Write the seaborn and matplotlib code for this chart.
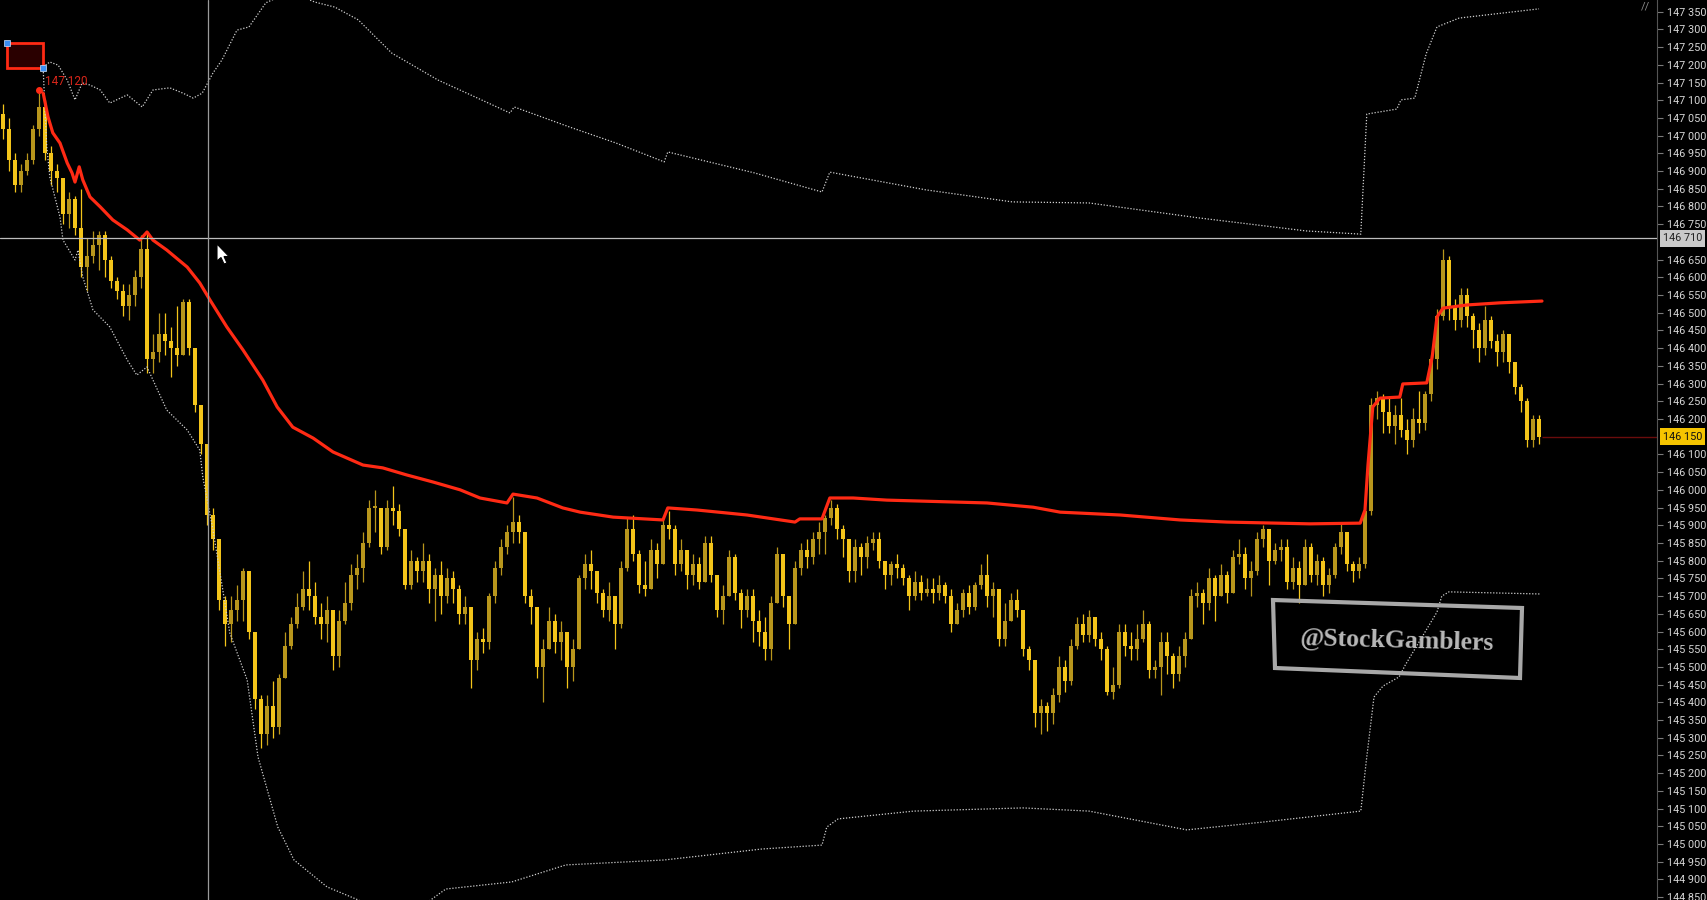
from matplotlib.patches import Polygon, Rectangle
import matplotlib.pyplot as plt
import matplotlib.transforms as mtransforms
import numpy as np
import pandas as pd
import seaborn as sns


# candles, one per bar (open of bar n = close of bar n-1)
first_open = 147.06
closes = [
    147.02, 146.93, 146.86, 146.90, 146.93, 147.02, 147.08, 146.95, 146.90, 146.88,
    146.78, 146.82, 146.74, 146.63, 146.66, 146.69, 146.72, 146.65, 146.59, 146.56,
    146.52, 146.55, 146.60, 146.68, 146.37, 146.39, 146.44, 146.42, 146.40, 146.38,
    146.53, 146.40, 146.24, 146.13, 145.93, 145.86, 145.69, 145.62, 145.66, 145.69,
    145.77, 145.60, 145.41, 145.31, 145.39, 145.33, 145.47, 145.56, 145.62, 145.67,
    145.72, 145.70, 145.64, 145.62, 145.66, 145.53, 145.63, 145.68, 145.76, 145.78,
    145.85, 145.95, 145.95, 145.84, 145.95, 145.94, 145.89, 145.73, 145.80, 145.77,
    145.80, 145.72, 145.76, 145.70, 145.75, 145.72, 145.65, 145.67, 145.52, 145.58,
    145.57, 145.70, 145.78, 145.84, 145.88, 145.91, 145.88, 145.70, 145.67, 145.50,
    145.55, 145.63, 145.57, 145.60, 145.50, 145.55, 145.75, 145.79, 145.77, 145.71,
    145.66, 145.70, 145.62, 145.78, 145.89, 145.82, 145.73, 145.72, 145.83, 145.79,
    145.90, 145.89, 145.79, 145.83, 145.76, 145.79, 145.74, 145.85, 145.76, 145.66,
    145.70, 145.81, 145.71, 145.66, 145.70, 145.63, 145.60, 145.55, 145.68, 145.82,
    145.70, 145.62, 145.78, 145.83, 145.81, 145.86, 145.88, 145.92, 145.95, 145.89,
    145.86, 145.77, 145.84, 145.81, 145.85, 145.86, 145.80, 145.76, 145.79, 145.78,
    145.75, 145.70, 145.74, 145.71, 145.72, 145.71, 145.73, 145.70, 145.62, 145.66,
    145.71, 145.67, 145.73, 145.76, 145.70, 145.72, 145.58, 145.63, 145.69, 145.66,
    145.55, 145.52, 145.37, 145.39, 145.37, 145.42, 145.50, 145.46, 145.56, 145.62,
    145.59, 145.64, 145.58, 145.55, 145.43, 145.45, 145.60, 145.56, 145.55, 145.58,
    145.62, 145.49, 145.50, 145.57, 145.53, 145.48, 145.53, 145.58, 145.70, 145.71,
    145.68, 145.75, 145.70, 145.76, 145.71, 145.81, 145.82, 145.75, 145.77, 145.86,
    145.89, 145.80, 145.83, 145.84, 145.74, 145.78, 145.73, 145.84, 145.76, 145.80,
    145.73, 145.76, 145.84, 145.88, 145.79, 145.77, 145.79, 145.94, 146.24, 146.26,
    146.22, 146.18, 146.21, 146.17, 146.14, 146.20, 146.19, 146.27, 146.37, 146.49,
    146.65, 146.52, 146.48, 146.55, 146.49, 146.45, 146.40, 146.48, 146.42, 146.39,
    146.44, 146.36, 146.29, 146.25, 146.14, 146.20, 146.15,
]
highs = [
    147.09, 147.05, 146.95, 146.92, 146.95, 147.03, 147.12, 147.10, 146.97, 146.92,
    146.88, 146.84, 146.83, 146.85, 146.71, 146.73, 146.73, 146.73, 146.66, 146.60,
    146.58, 146.58, 146.62, 146.72, 146.73, 146.44, 146.50, 146.50, 146.46, 146.52,
    146.54, 146.54, 146.40, 146.24, 146.11, 145.95, 145.86, 145.70, 145.70, 145.73,
    145.78, 145.72, 145.60, 145.42, 145.42, 145.46, 145.48, 145.60, 145.64, 145.71,
    145.77, 145.80, 145.74, 145.68, 145.70, 145.66, 145.66, 145.74, 145.79, 145.82,
    145.88, 145.97, 146.00, 145.95, 145.97, 146.01, 145.96, 145.89, 145.83, 145.81,
    145.85, 145.82, 145.78, 145.80, 145.78, 145.77, 145.73, 145.70, 145.67, 145.60,
    145.61, 145.71, 145.80, 145.86, 145.90, 145.98, 145.93, 145.80, 145.72, 145.64,
    145.58, 145.67, 145.65, 145.63, 145.60, 145.58, 145.76, 145.82, 145.83, 145.76,
    145.72, 145.74, 145.68, 145.80, 145.92, 145.93, 145.83, 145.80, 145.86, 145.85,
    145.92, 145.94, 145.90, 145.86, 145.80, 145.82, 145.81, 145.87, 145.87, 145.76,
    145.73, 145.83, 145.82, 145.72, 145.72, 145.72, 145.66, 145.64, 145.70, 145.84,
    145.82, 145.70, 145.80, 145.85, 145.86, 145.88, 145.91, 145.93, 145.97, 145.96,
    145.90, 145.86, 145.86, 145.85, 145.87, 145.88, 145.88, 145.80, 145.80, 145.82,
    145.79, 145.76, 145.77, 145.76, 145.75, 145.75, 145.76, 145.74, 145.72, 145.68,
    145.72, 145.73, 145.74, 145.79, 145.82, 145.74, 145.72, 145.68, 145.71, 145.72,
    145.66, 145.56, 145.50, 145.41, 145.40, 145.44, 145.53, 145.52, 145.58, 145.64,
    145.65, 145.66, 145.64, 145.60, 145.56, 145.50, 145.62, 145.62, 145.60, 145.62,
    145.66, 145.63, 145.52, 145.60, 145.60, 145.54, 145.56, 145.60, 145.72, 145.74,
    145.72, 145.78, 145.76, 145.79, 145.77, 145.83, 145.86, 145.84, 145.80, 145.88,
    145.90, 145.87, 145.85, 145.86, 145.86, 145.81, 145.80, 145.86, 145.85, 145.82,
    145.81, 145.78, 145.85, 145.91, 145.88, 145.80, 145.81, 145.95, 146.26, 146.28,
    146.27, 146.26, 146.24, 146.26, 146.20, 146.23, 146.28, 146.28, 146.38, 146.51,
    146.68, 146.66, 146.54, 146.57, 146.57, 146.50, 146.47, 146.52, 146.49, 146.44,
    146.45, 146.44, 146.36, 146.30, 146.26, 146.21, 146.21,
]
lows = [
    146.99, 146.90, 146.84, 146.84, 146.89, 146.92, 147.00, 146.93, 146.86, 146.84,
    146.75, 146.74, 146.72, 146.60, 146.56, 146.64, 146.62, 146.60, 146.57, 146.54,
    146.49, 146.48, 146.52, 146.57, 146.33, 146.33, 146.36, 146.38, 146.32, 146.35,
    146.38, 146.38, 146.22, 146.10, 145.90, 145.83, 145.66, 145.56, 145.57, 145.63,
    145.63, 145.58, 145.38, 145.27, 145.28, 145.30, 145.31, 145.49, 145.55, 145.61,
    145.66, 145.66, 145.62, 145.58, 145.57, 145.49, 145.50, 145.62, 145.66, 145.72,
    145.74, 145.84, 145.88, 145.82, 145.83, 145.90, 145.87, 145.72, 145.72, 145.74,
    145.74, 145.68, 145.63, 145.65, 145.68, 145.68, 145.62, 145.62, 145.44, 145.49,
    145.54, 145.55, 145.68, 145.76, 145.82, 145.85, 145.85, 145.68, 145.62, 145.47,
    145.40, 145.55, 145.54, 145.52, 145.44, 145.46, 145.55, 145.72, 145.72, 145.68,
    145.64, 145.63, 145.55, 145.61, 145.77, 145.80, 145.71, 145.70, 145.72, 145.75,
    145.80, 145.86, 145.76, 145.77, 145.72, 145.73, 145.72, 145.74, 145.74, 145.64,
    145.62, 145.70, 145.69, 145.61, 145.64, 145.57, 145.56, 145.52, 145.52, 145.68,
    145.67, 145.55, 145.62, 145.76, 145.78, 145.79, 145.82, 145.82, 145.90, 145.86,
    145.81, 145.74, 145.74, 145.76, 145.78, 145.83, 145.78, 145.72, 145.73, 145.75,
    145.73, 145.66, 145.69, 145.69, 145.70, 145.68, 145.69, 145.68, 145.60, 145.62,
    145.64, 145.65, 145.66, 145.72, 145.67, 145.64, 145.56, 145.56, 145.63, 145.64,
    145.53, 145.49, 145.33, 145.31, 145.32, 145.34, 145.40, 145.43, 145.45, 145.55,
    145.57, 145.57, 145.56, 145.52, 145.42, 145.41, 145.44, 145.53, 145.52, 145.52,
    145.57, 145.47, 145.47, 145.42, 145.48, 145.44, 145.46, 145.50, 145.58, 145.67,
    145.62, 145.66, 145.63, 145.70, 145.68, 145.72, 145.79, 145.72, 145.70, 145.76,
    145.84, 145.73, 145.79, 145.80, 145.72, 145.72, 145.68, 145.73, 145.74, 145.73,
    145.70, 145.71, 145.75, 145.82, 145.77, 145.74, 145.75, 145.78, 145.93, 146.20,
    146.16, 146.16, 146.13, 146.15, 146.10, 146.12, 146.16, 146.17, 146.25, 146.34,
    146.48, 146.48, 146.45, 146.46, 146.46, 146.40, 146.36, 146.38, 146.40, 146.35,
    146.36, 146.33, 146.27, 146.22, 146.12, 146.12, 146.13,
]

# anchored VWAP and its bands, as traced (bar number, price)
vwap_bar = [6.7, 7.5, 8.3, 9.5, 10.7, 11.5, 12.0, 12.7, 13.3, 14.5, 16.2, 18.3, 20.7, 22.8,
            24.0, 25.0, 27.3, 30.7, 32.8, 34.5, 37.3, 40.0, 43.3, 45.7, 48.3, 51.7, 55.0,
            60.0, 63.3, 67.3, 71.7, 76.2, 79.5, 84.0, 85.0, 89.0, 93.3, 96.2, 101.7, 110.0,
            110.8, 115.7, 124.0, 132.0, 132.8, 136.5, 137.8, 141.7, 147.3, 164.0, 171.7,
            176.2, 186.2, 196.2, 204.0, 217.8, 226.2, 227.0, 227.5, 228.3, 229.5, 232.8,
            233.3, 237.3, 238.2, 239.0, 240.0, 244.0, 249.5, 256.5]
vwap_px = [147.120, 147.053, 147.008, 146.979, 146.923, 146.895, 146.869, 146.912, 146.875,
           146.827, 146.799, 146.762, 146.734, 146.705, 146.728, 146.705, 146.677, 146.629,
           146.584, 146.536, 146.460, 146.395, 146.310, 146.234, 146.177, 146.146, 146.107,
           146.070, 146.062, 146.042, 146.022, 146.000, 145.977, 145.963, 145.988, 145.977,
           145.949, 145.937, 145.923, 145.915, 145.949, 145.943, 145.929, 145.909, 145.918,
           145.918, 145.977, 145.977, 145.971, 145.963, 145.951, 145.937, 145.929, 145.915,
           145.909, 145.904, 145.906, 145.943, 146.070, 146.234, 146.259, 146.262, 146.299,
           146.302, 146.375, 146.488, 146.513, 146.522, 146.528, 146.533]

upper_bar = [6.7, 7.8, 9.2, 10.7, 12.0, 13.2, 14.5, 16.2, 17.8, 20.7, 23.2, 25.0, 27.8, 30.0,
             31.7, 33.2, 35.0, 36.5, 39.0, 41.0, 43.8, 47.8, 52.0, 55.3, 59.2, 64.8, 72.5,
             77.3, 84.5, 85.2, 94.5, 102.2, 110.2, 110.8, 125.2, 136.5, 137.8, 153.8, 168.2,
             181.0, 199.2, 217.2, 226.3, 227.3, 232.3, 233.0, 235.3, 237.2, 239.0, 242.7, 256.0]
upper_px = [147.194, 147.208, 147.199, 147.157, 147.101, 147.149, 147.143, 147.129, 147.092,
            147.115, 147.081, 147.129, 147.135, 147.120, 147.106, 147.120, 147.177, 147.214,
            147.298, 147.307, 147.375, 147.406, 147.377, 147.363, 147.327, 147.233, 147.157,
            147.120, 147.064, 147.081, 147.024, 146.979, 146.926, 146.954, 146.895, 146.841,
            146.897, 146.847, 146.813, 146.810, 146.768, 146.731, 146.722, 147.061, 147.075,
            147.101, 147.106, 147.231, 147.307, 147.332, 147.358]

lower_bar = [6.7, 7.0, 7.3, 7.8, 9.5, 10.0, 12.0, 12.5, 13.3, 15.0, 17.8, 20.7, 22.3, 24.0,
             25.0, 27.3, 30.7, 32.8, 33.3, 35.0, 37.8, 40.7, 42.5, 45.8, 48.5, 54.0, 61.2,
             68.5, 73.8, 84.8, 93.8, 110.2, 126.5, 136.5, 137.3, 139.2, 151.8, 170.0, 181.0,
             197.3, 210.0, 226.3, 227.2, 228.5, 230.0, 232.7, 233.7, 239.0, 239.8, 241.0, 256.2]
lower_px = [147.188, 147.072, 146.968, 146.883, 146.770, 146.705, 146.649, 146.677, 146.601,
            146.508, 146.460, 146.367, 146.324, 146.347, 146.310, 146.225, 146.169, 146.112,
            146.036, 145.887, 145.596, 145.463, 145.246, 145.048, 144.955, 144.879, 144.828,
            144.808, 144.873, 144.893, 144.941, 144.955, 144.986, 144.997, 145.048, 145.071,
            145.093, 145.102, 145.093, 145.040, 145.062, 145.093, 145.232, 145.415, 145.446,
            145.472, 145.505, 145.655, 145.700, 145.712, 145.706]

price_ticks = [round(144.85 + 0.05 * k, 2) for k in range(51)]
crosshair_price = 146.710
crosshair_bar = 34.2
last_price = 146.150
high_label = "147 120"
high_bar, high_price = 6, 147.13
watermark = "@StockGamblers"

BG = "#000000"
UP = "#b8961c"
DOWN = "#f3c41a"
RED = "#ff2a14"
BAND = "#cfcfcf"
W, H = 1707, 900


def fmt(p: float) -> str:
    return f"{int(round(p * 1000)):,}".replace(",", " ")


def px(x: float, y: float) -> tuple[float, float]:
    # screen pixel -> figure fraction
    return x / W, 1 - y / H


def draw_candles(ax, candles: pd.DataFrame) -> None:
    up = candles["close"] >= candles["open"]
    colors = np.where(up, UP, DOWN)
    ax.vlines(candles["bar"], candles["low"], candles["high"], colors=colors, lw=0.9, zorder=2)
    body = (candles["close"] - candles["open"]).abs().clip(lower=0.004)
    bottom = candles[["open", "close"]].min(axis=1)
    ax.bar(candles["bar"], body, bottom=bottom, width=0.55, color=colors, lw=0, zorder=3)


def main() -> None:
    sns.set_style("dark", rc={"axes.facecolor": BG, "figure.facecolor": BG})
    plt.rcParams["font.family"] = ["Roboto", "DejaVu Sans"]

    n = len(closes)
    opens = [first_open] + closes[:-1]
    candles = pd.DataFrame({"bar": np.arange(n), "open": opens, "close": closes,
                            "high": highs, "low": lows})
    candles["high"] = candles[["high", "open", "close"]].max(axis=1)
    candles["low"] = candles[["low", "open", "close"]].min(axis=1)

    fig = plt.figure(figsize=(W / 100, H / 100), dpi=100)
    ax = fig.add_axes([0, 0, 1657 / W, 1])
    ax.set_facecolor(BG)

    draw_candles(ax, candles)

    vwap = pd.DataFrame({"bar": vwap_bar, "price": vwap_px})
    upper = pd.DataFrame({"bar": upper_bar, "price": upper_px})
    lower = pd.DataFrame({"bar": lower_bar, "price": lower_px})
    for band in (upper, lower):
        sns.lineplot(data=band, x="bar", y="price", ax=ax, color=BAND, lw=0.9,
                     linestyle=(0, (1, 1.4)), estimator=None, sort=False, zorder=4)
    sns.lineplot(data=vwap, x="bar", y="price", ax=ax, color=RED, lw=2.3,
                 estimator=None, sort=False, zorder=5)

    x_left, x_right = -0.5, 275.67
    ax.set_xlim(x_left, x_right)
    ax.set_ylim(144.842, 147.383)

    # crosshair
    ax.axhline(crosshair_price, color="#bdbdbd", lw=0.9, zorder=6)
    ax.axvline(crosshair_bar, color="#9a9a9a", lw=0.9, zorder=6)
    # last price line
    ax.hlines(last_price, n - 0.5, x_right, color="#6a0c0c", lw=1, zorder=1)

    # drawn rectangle and high marker
    ax.add_patch(Rectangle((0.67, 147.191), 6.0, 0.071, fc="#2a0000", ec=RED, lw=2, zorder=6))
    ax.plot([0.67, 6.67], [147.262, 147.191], "s", color="#3b8ff3", ms=5, mec="#cfe3ff", mew=0.5, zorder=7)
    ax.plot([high_bar], [high_price], "o", color=RED, ms=4, zorder=7)
    ax.text(high_bar + 1.0, 147.152, high_label, color="#d8261a", fontsize=8.5, va="center", zorder=7)

    # mouse cursor, tip at (217, 244)
    tip_x, tip_y = 217, 244
    arrow = [(0, 0), (0, 17), (4, 13.5), (7, 20), (10, 19), (7, 12.5), (12, 12.5)]
    fig.patches.append(Polygon([px(tip_x + dx, tip_y + dy) for dx, dy in arrow], closed=True,
                               fc="white", ec="black", lw=0.8, transform=fig.transFigure, zorder=10))

    # right price scale
    ax.yaxis.tick_right()
    shown = [p for p in price_ticks if abs(p - 146.70) > 1e-6 and abs(p - last_price) > 1e-6]
    ax.set_yticks(shown)
    ax.set_yticklabels([fmt(p) for p in shown])
    ax.tick_params(axis="y", direction="out", length=4, width=0.8, color="#7a7a7a",
                   labelcolor="#d6d6d6", labelsize=7.8, pad=3)
    ax.set_xticks([])
    ax.set_xlabel("")
    ax.set_ylabel("")
    ax.grid(False)
    for side in ("top", "left", "bottom"):
        ax.spines[side].set_visible(False)
    ax.spines["right"].set_color("#555555")
    ax.spines["right"].set_linewidth(0.8)

    trans = mtransforms.blended_transform_factory(ax.transAxes, ax.transData)
    ax.text(1.0035, crosshair_price, fmt(crosshair_price), transform=trans, fontsize=7.8,
            color="#222222", va="center", ha="left", clip_on=False,
            bbox=dict(boxstyle="square,pad=0.3", fc="#c9c9c9", ec="none"))
    ax.text(1.0035, last_price, fmt(last_price), transform=trans, fontsize=7.8,
            color="#111111", va="center", ha="left", clip_on=False,
            bbox=dict(boxstyle="square,pad=0.3", fc="#f5c400", ec="none"))

    # watermark stamp
    corners = [(1273, 600), (1522, 608), (1520, 678), (1275, 668)]
    fig.patches.append(Polygon([px(x, y) for x, y in corners], closed=True,
                               fill=False, ec="#a8a8a8", lw=3, transform=fig.transFigure, zorder=9))
    fig.text(*px(1397, 641), watermark, family="Liberation Serif", weight="bold",
             fontsize=18.5, color="#b8b8b8", rotation=-1.5, ha="center", va="center")
    fig.text(*px(1641, 7), "//", color="#8a8a8a", fontsize=8, ha="left", va="center")

    fig.savefig("out.png", dpi=100, facecolor=BG)
    plt.close(fig)


if __name__ == "__main__":
    main()
